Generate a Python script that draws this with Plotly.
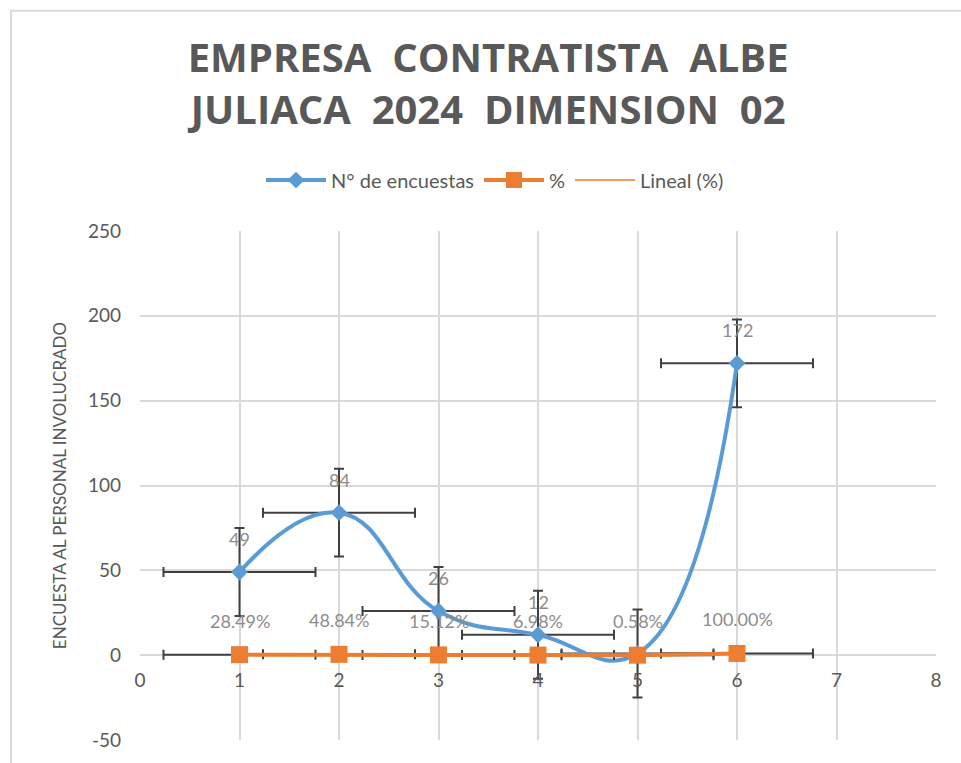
import numpy as np
import plotly.graph_objects as go

# Data
x_vals = [1, 2, 3, 4, 5, 6]
encuestas = [49, 84, 26, 12, 1, 172]
porcentaje = [0.2849, 0.4884, 0.1512, 0.0698, 0.0058, 1.0]
pct_labels = ["28.49%", "48.84%", "15.12%", "6.98%", "0.58%", "100.00%"]
enc_labels = ["49", "84", "26", "12", "1", "172"]
x_ticks = [0, 1, 2, 3, 4, 5, 6, 7, 8]
y_ticks = [-50, 0, 50, 100, 150, 200, 250]

BLUE = "#5B9BD5"
ORANGE = "#ED7D31"
GRAY = "#595959"
LABEL = "#8C8C8C"
GRID = "#D9D9D9"
ERR = "#404040"

x_arr = np.array(x_vals, dtype=float)
n = len(x_arr)
# Excel "standard error" error bars
se_x = np.std(x_arr, ddof=1) / np.sqrt(n)
se_y_enc = np.std(np.array(encuestas, float), ddof=1) / np.sqrt(n)
se_y_pct = np.std(np.array(porcentaje, float), ddof=1) / np.sqrt(n)

# linear trendline of %
coef = np.polyfit(x_arr, np.array(porcentaje), 1)
trend_y = np.polyval(coef, x_arr)

fig = go.Figure()

fig.add_trace(go.Scatter(
    x=x_vals, y=encuestas, mode="lines+markers", name="N° de encuestas",
    line=dict(color=BLUE, width=4, shape="spline", smoothing=1.3),
    marker=dict(symbol="diamond", size=13, color=BLUE),
    error_x=dict(type="constant", value=se_x, color=ERR, thickness=2, width=5),
    error_y=dict(type="constant", value=se_y_enc, color=ERR, thickness=2, width=5),
))

fig.add_trace(go.Scatter(
    x=x_vals, y=porcentaje, mode="lines+markers", name="%",
    line=dict(color=ORANGE, width=4),
    marker=dict(symbol="square", size=17, color=ORANGE),
    error_x=dict(type="constant", value=se_x, color=ERR, thickness=2, width=5),
    error_y=dict(type="constant", value=se_y_pct, color=ERR, thickness=2, width=5),
))

fig.add_trace(go.Scatter(
    x=x_vals, y=trend_y, mode="lines", name="Lineal (%)",
    line=dict(color=ORANGE, width=1.5),
))

# data labels
for xv, yv, t in zip(x_vals, encuestas, enc_labels):
    if t == "1":
        continue
    fig.add_annotation(x=xv, y=yv, text=t, showarrow=False, yshift=33,
                       font=dict(family="Lato", size=18, color=LABEL))
for xv, yv, t in zip(x_vals, porcentaje, pct_labels):
    fig.add_annotation(x=xv, y=yv, text=t, showarrow=False, yshift=34,
                       font=dict(family="Lato", size=18, color=LABEL))

# chart border
fig.add_shape(type="rect", xref="paper", yref="paper",
              x0=-0.162, x1=1.2, y0=-0.2, y1=1.4325,
              line=dict(color=GRID, width=2), layer="below")

fig.update_layout(
    width=961, height=763,
    margin=dict(l=140, r=25, t=231, b=21),
    paper_bgcolor="white", plot_bgcolor="white",
    title=dict(
        text="<b>EMPRESA  CONTRATISTA  ALBE<br>JULIACA  2024  DIMENSION  02</b>",
        x=0.508, xanchor="center", yref="container", y=1 - 72 / 763, yanchor="middle",
        font=dict(family="Open Sans", size=40, color=GRAY),
    ),
    legend=dict(orientation="h", x=0.446, xanchor="center", y=1.1, yanchor="middle",
                font=dict(family="Lato", size=20, color=GRAY), itemwidth=60,
                bgcolor="rgba(0,0,0,0)"),
    xaxis=dict(range=[0, 8], tickvals=x_ticks, ticktext=[str(v) for v in x_ticks],
               showgrid=True, gridcolor=GRID, gridwidth=2, zeroline=False,
               showline=False, anchor="free", position=50 / 300,
               tickfont=dict(family="Lato", size=19, color=GRAY), ticks="",
               ticklabelstandoff=12),
    yaxis=dict(range=[-50, 250], tickvals=y_ticks, ticktext=[str(v) for v in y_ticks],
               showgrid=True, gridcolor=GRID, gridwidth=2, zeroline=True,
               zerolinecolor=GRID, zerolinewidth=2, showline=False,
               tickfont=dict(family="Lato", size=19, color=GRAY), ticks="",
               ticklabelstandoff=18,
               title=dict(text="ENCUESTA AL PERSONAL INVOLUCRADO", standoff=16,
                          font=dict(family="Lato", size=17, color=GRAY))),
    showlegend=True,
)

fig.write_html("out.html")
